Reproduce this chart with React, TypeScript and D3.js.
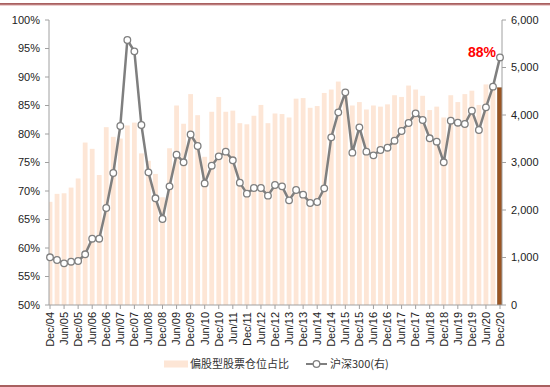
import React from 'react';
import * as d3 from 'd3';

// 季度标签
const quarters = [
  'Dec/04',
  'Mar/05', 'Jun/05', 'Sep/05', 'Dec/05',
  'Mar/06', 'Jun/06', 'Sep/06', 'Dec/06',
  'Mar/07', 'Jun/07', 'Sep/07', 'Dec/07',
  'Mar/08', 'Jun/08', 'Sep/08', 'Dec/08',
  'Mar/09', 'Jun/09', 'Sep/09', 'Dec/09',
  'Mar/10', 'Jun/10', 'Sep/10', 'Dec/10',
  'Mar/11', 'Jun/11', 'Sep/11', 'Dec/11',
  'Mar/12', 'Jun/12', 'Sep/12', 'Dec/12',
  'Mar/13', 'Jun/13', 'Sep/13', 'Dec/13',
  'Mar/14', 'Jun/14', 'Sep/14', 'Dec/14',
  'Mar/15', 'Jun/15', 'Sep/15', 'Dec/15',
  'Mar/16', 'Jun/16', 'Sep/16', 'Dec/16',
  'Mar/17', 'Jun/17', 'Sep/17', 'Dec/17',
  'Mar/18', 'Jun/18', 'Sep/18', 'Dec/18',
  'Mar/19', 'Jun/19', 'Sep/19', 'Dec/19',
  'Mar/20', 'Jun/20', 'Sep/20', 'Dec/20',
];

// 偏股型股票仓位占比 (%)
const equityShare = [
  68.1,
  69.5, 69.6, 70.6, 72.2,
  78.5, 77.4, 72.8, 81.2,
  79.5, 79.2, 81.5, 82.0,
  76.6, 75.3, 73.0, 68.9,
  77.5, 85.0, 81.8, 87.0,
  83.3, 76.0, 83.9, 86.5,
  83.9, 84.1, 81.9, 81.7,
  83.2, 85.1, 81.9, 83.6,
  83.5, 82.9, 86.2, 86.3,
  84.6, 84.9, 87.2, 87.8,
  89.2, 87.5, 85.0, 85.6,
  84.3, 85.0, 84.8, 85.2,
  86.8, 86.5, 88.5, 87.8,
  86.7, 84.2, 84.8, 82.9,
  86.8, 85.6, 87.0, 87.6,
  85.1, 88.7, 88.5, 88.1,
];

// 沪深300 (右轴)
const csi300 = [
  1004,
  947, 877, 912, 926,
  1067, 1396, 1396, 2042,
  2779, 3768, 5579, 5340,
  3789, 2793, 2246, 1811,
  2498, 3165, 3004, 3590,
  3347, 2560, 2933, 3130,
  3228, 3046, 2575, 2344,
  2463, 2463, 2302, 2526,
  2498, 2203, 2421, 2323,
  2147, 2168, 2456, 3530,
  4056, 4477, 3207, 3740,
  3228, 3151, 3263, 3312,
  3459, 3663, 3832, 4035,
  3895, 3509, 3439, 3004,
  3881, 3838, 3811, 4091,
  3684, 4161, 4597, 5213,
];

const leftTicks = [50, 55, 60, 65, 70, 75, 80, 85, 90, 95, 100];
const rightTicks = [0, 1000, 2000, 3000, 4000, 5000, 6000];
const legendLabels = ['偏股型股票仓位占比', '沪深300(右)'];

const W = 550;
const H = 387;
const plot = { left: 49, right: 502, top: 20, bottom: 305 };
const latin = '"Liberation Sans", Arial, sans-serif';
const cjk = '"Noto Sans CJK SC", sans-serif';

export default function App() {
  const x = d3.scalePoint<string>().domain(quarters).range([50, 500]);
  const yL = d3.scaleLinear().domain([50, 100]).range([plot.bottom, plot.top]);
  const yR = d3.scaleLinear().domain([0, 6000]).range([plot.bottom, plot.top]);
  const barW = 4.8;
  const last = quarters.length - 1;

  const line = d3.line<number>()
    .x((_, i) => x(quarters[i]) as number)
    .y(d => yR(d));

  const fmt = d3.format(',');

  return (
    <svg width={W} height={H} style={{ position: 'absolute', left: 0, top: 0, background: '#fff' }}>
      <defs>
        <clipPath id="plotClip">
          <rect x={plot.left} y={0} width={plot.right - plot.left} height={plot.bottom} />
        </clipPath>
      </defs>

      {/* 上下边框 */}
      <line x1={0} x2={W} y1={4} y2={4} stroke="#8c2b2b" strokeWidth={1.5} />
      <line x1={0} x2={W} y1={5.2} y2={5.2} stroke="#e3b9b9" strokeWidth={1} />
      <line x1={0} x2={W} y1={386} y2={386} stroke="#8c2b2b" strokeWidth={1.5} />

      {/* 柱子 */}
      <g clipPath="url(#plotClip)">
        {equityShare.map((v, i) => (
          <rect
            key={i}
            x={(x(quarters[i]) as number) - barW / 2}
            y={yL(v)}
            width={barW}
            height={plot.bottom - yL(v)}
            fill={i === last ? '#9a5523' : '#fde6d6'}
            stroke={i === last ? '#7a3f14' : 'none'}
            strokeWidth={0.6}
          />
        ))}
      </g>

      {/* 左轴 */}
      <g fontFamily={latin} fontSize={11} fill="#222">
        <line x1={plot.left} x2={plot.left} y1={plot.top} y2={plot.bottom} stroke="#a0a0a0" />
        {leftTicks.map(t => (
          <g key={t} transform={`translate(${plot.left},${yL(t)})`}>
            <line x1={-4} x2={0} stroke="#a0a0a0" />
            <text x={-9} dy="0.35em" textAnchor="end">{t}%</text>
          </g>
        ))}
      </g>

      {/* 右轴 */}
      <g fontFamily={latin} fontSize={11} fill="#222">
        <line x1={plot.right} x2={plot.right} y1={plot.top} y2={plot.bottom} stroke="#a0a0a0" />
        {rightTicks.map(t => (
          <g key={t} transform={`translate(${plot.right},${yR(t)})`}>
            <line x1={0} x2={4} stroke="#a0a0a0" />
            <text x={9} dy="0.35em">{fmt(t)}</text>
          </g>
        ))}
      </g>

      {/* x轴 */}
      <g fontFamily={latin} fontSize={11} fill="#222">
        <line x1={plot.left} x2={plot.right} y1={plot.bottom} y2={plot.bottom} stroke="#a0a0a0" />
        {quarters.map((q, i) => i % 2 === 0 && (
          <g key={q} transform={`translate(${x(q)},${plot.bottom})`}>
            <line y1={0} y2={4} stroke="#a0a0a0" />
            <text transform="translate(0,7) rotate(-90)" textAnchor="end" dy="0.35em">{q}</text>
          </g>
        ))}
      </g>

      {/* 沪深300 折线 */}
      <path d={line(csi300) ?? ''} fill="none" stroke="#7f7f7f" strokeWidth={2.5} strokeLinejoin="round" />
      {csi300.map((v, i) => (
        <circle key={i} cx={x(quarters[i])} cy={yR(v)} r={3.3} fill="#fff" stroke="#7f7f7f" strokeWidth={1.3} />
      ))}

      {/* 最新值标注 */}
      <text
        x={(x(quarters[last]) as number) - 4}
        y={yR(csi300[last])}
        textAnchor="end"
        fontFamily={latin}
        fontSize={14}
        fontWeight="bold"
        fill="#ff0000"
      >
        {Math.round(equityShare[last])}%
      </text>

      {/* 图例 */}
      <g fontFamily={cjk} fontSize={11} fill="#333">
        <rect x={164} y={360.5} width={24} height={7} fill="#fde6d6" />
        <text x={190} y={364} dy="0.35em">{legendLabels[0]}</text>
        <line x1={306} x2={327} y1={364} y2={364} stroke="#7f7f7f" strokeWidth={2} />
        <circle cx={316.5} cy={364} r={3.3} fill="#fff" stroke="#7f7f7f" strokeWidth={1.3} />
        <text x={330} y={364} dy="0.35em">{legendLabels[1]}</text>
      </g>
    </svg>
  );
}
